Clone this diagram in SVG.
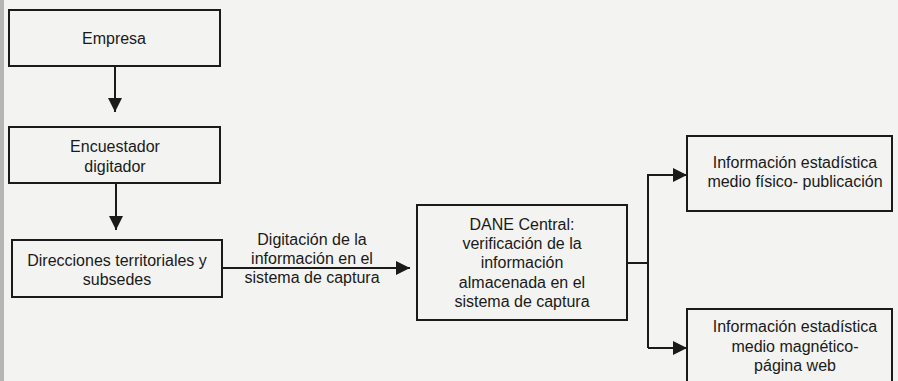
<svg xmlns="http://www.w3.org/2000/svg" width="898" height="381" viewBox="0 0 898 381">
<defs>
<style>
.box{fill:none;stroke:#1a1a1a;stroke-width:2}
.ln{fill:none;stroke:#1a1a1a;stroke-width:2}
text{font-family:"Liberation Sans",Arial,sans-serif;font-size:16px;fill:#1a1a1a;text-anchor:middle}
</style>
<marker id="ah" viewBox="0 0 10 10" refX="10" refY="5" markerWidth="7" markerHeight="7" markerUnits="strokeWidth" orient="auto">
<path d="M0,0 L10,5 L0,10 Z" fill="#1a1a1a"/>
</marker>
</defs>
<rect x="0" y="0" width="898" height="381" fill="#f3f3f1"/>
<rect x="0" y="0" width="4" height="381" fill="#b5b5b5"/>
<g id="n-empresa">
<rect class="box" x="9" y="10" width="211" height="56"/>
<text x="114" y="44">Empresa</text>
</g>
<g id="n-encuestador">
<rect class="box" x="9" y="127" width="211" height="56"/>
<text x="115" y="152">Encuestador</text>
<text x="115" y="172">digitador</text>
</g>
<g id="n-direcciones">
<rect class="box" x="12" y="240" width="210" height="57"/>
<text x="117" y="266">Direcciones territoriales y</text>
<text x="117" y="285">subsedes</text>
</g>
<g id="n-dane">
<rect class="box" x="417" y="205" width="210" height="115"/>
<text x="522" y="230">DANE Central:</text>
<text x="522" y="249">verificación de la</text>
<text x="522" y="268">información</text>
<text x="522" y="288">almacenada en el</text>
<text x="522" y="307">sistema de captura</text>
</g>
<g id="n-fisico">
<rect class="box" x="687" y="136" width="205" height="75"/>
<text x="795" y="168">Información estadística</text>
<text x="795" y="187">medio físico- publicación</text>
</g>
<g id="n-magnetico">
<rect class="box" x="687" y="309" width="205" height="80"/>
<text x="795" y="332">Información estadística</text>
<text x="795" y="352">medio magnético-</text>
<text x="795" y="371">página web</text>
</g>
<g id="connectors">
<line class="ln" x1="115" y1="66" x2="115" y2="112" marker-end="url(#ah)"/>
<line class="ln" x1="116" y1="183" x2="116" y2="230" marker-end="url(#ah)"/>
<line class="ln" x1="222" y1="268" x2="410" y2="268" marker-end="url(#ah)"/>
<text x="312" y="245">Digitación de la</text>
<text x="312" y="264">información en el</text>
<text x="312" y="283">sistema de captura</text>
<polyline class="ln" points="627,263 648,263"/>
<polyline class="ln" points="648,348 648,175 687,175" marker-end="url(#ah)"/>
<line class="ln" x1="648" y1="348" x2="687" y2="348" marker-end="url(#ah)"/>
</g>
</svg>
